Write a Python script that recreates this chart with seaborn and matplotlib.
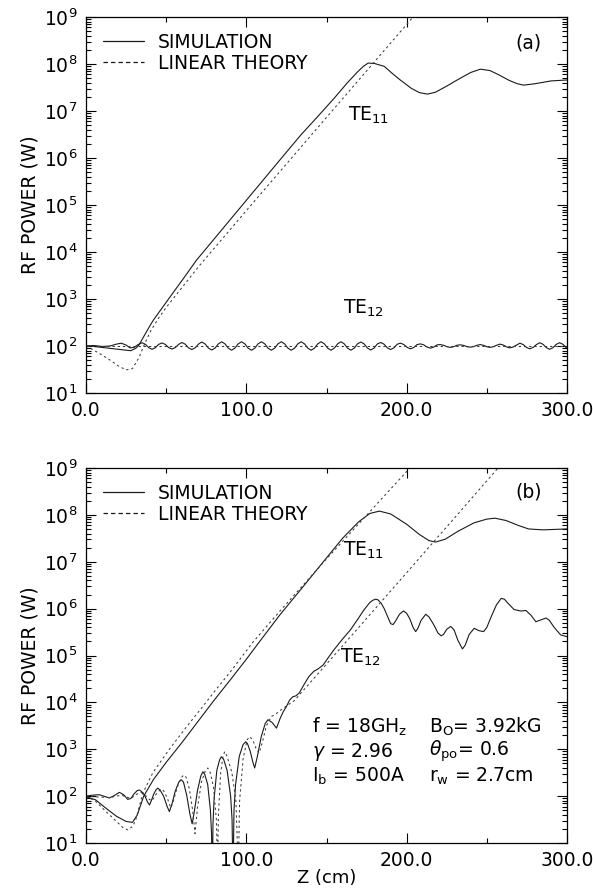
import numpy as np
import pandas as pd
import seaborn as sns
import matplotlib.pyplot as plt
from matplotlib.lines import Line2D
from matplotlib.ticker import MultipleLocator, FixedLocator, LogFormatterMathtext, NullFormatter, FormatStrFormatter

# ---- panel (a): values (z in cm, power as log10(W)) ----
z_a11_sim = [0, 5, 10, 15, 20, 25, 28, 31, 33, 36, 39, 42, 50, 60, 69, 80, 90, 100, 110, 120,
             134, 145, 155, 163, 169, 173, 176, 180, 186, 191, 196, 203, 208, 213, 218, 225,
             232, 240, 246, 252, 258, 264, 269, 273, 280, 290, 300]
p_a11_sim = [2.00, 1.99, 1.97, 1.95, 1.93, 1.91, 1.90, 1.95, 2.02, 2.20, 2.38, 2.55, 2.93, 3.40,
             3.83, 4.28, 4.69, 5.10, 5.51, 5.92, 6.49, 6.90, 7.28, 7.60, 7.82, 7.95, 8.02, 8.01,
             7.95, 7.80, 7.66, 7.48, 7.39, 7.36, 7.40, 7.53, 7.67, 7.82, 7.89, 7.86, 7.76, 7.65,
             7.58, 7.55, 7.58, 7.64, 7.66]

z_a11_lin = [0, 8, 15, 20, 25, 29, 33, 36, 40, 45, 50, 60, 70, 80, 100, 134, 204, 210]
p_a11_lin = [2.00, 1.85, 1.70, 1.58, 1.49, 1.52, 1.75, 2.00, 2.30, 2.58, 2.82, 3.25, 3.68, 4.08,
             4.88, 6.23, 9.00, 9.24]

z_a12_sim = [0, 5, 10, 15, 19, 22, 25, 27.5, 30, 32.5,
             35.0, 37.1, 39.1, 41.2, 43.3, 45.3,
             47.4, 49.5, 51.5, 53.6, 55.7, 57.7,
             59.8, 61.9, 63.9, 66.0, 68.1, 70.1,
             72.2, 74.3, 76.3, 78.4, 80.5, 82.5,
             84.6, 86.7, 88.7, 90.8, 92.9, 94.9,
             97.0, 99.1, 101.1, 103.2, 105.3, 107.3,
             109.4, 111.5, 113.5, 115.6, 117.7, 119.7,
             121.8, 123.9, 125.9, 128.0, 130.1, 132.1,
             134.2, 136.3, 138.3, 140.4, 142.5, 144.5,
             146.6, 148.7, 150.7, 152.8, 154.9, 156.9,
             159.0, 161.1, 163.1, 165.2, 167.3, 169.3,
             171.4, 173.5, 175.5, 177.6, 179.7, 181.7,
             183.8, 185.9, 187.9, 190.0, 192.1, 194.1,
             196.2, 198.3, 200.3, 202.4, 204.5, 206.5,
             208.6, 210.7, 212.7, 214.8, 216.9, 218.9,
             221.0, 223.1, 225.1, 227.2, 229.3, 231.3,
             233.4, 235.5, 237.5, 239.6, 241.7, 243.7,
             245.8, 247.9, 249.9, 252.0, 254.1, 256.1,
             258.2, 260.3, 262.3, 264.4, 266.5, 268.5,
             270.6, 272.7, 274.7, 276.8, 278.9, 280.9,
             283.0, 285.1, 287.1, 289.2, 291.3, 293.3,
             295.4, 297.5, 299.5, 300]
p_a12_sim = [2.00, 2.01, 1.99, 2.00, 2.04, 2.06, 2.02, 1.96, 1.97, 2.03,
             2.070, 2.035, 1.965, 1.930, 1.965, 2.035,
             2.065, 2.033, 1.967, 1.935, 1.967, 2.033,
             2.075, 2.038, 1.962, 1.925, 1.962, 2.038,
             2.085, 2.043, 1.957, 1.915, 1.957, 2.043,
             2.090, 2.045, 1.955, 1.910, 1.955, 2.045,
             2.090, 2.045, 1.955, 1.910, 1.955, 2.045,
             2.090, 2.045, 1.955, 1.910, 1.955, 2.045,
             2.090, 2.045, 1.955, 1.910, 1.955, 2.045,
             2.090, 2.045, 1.955, 1.910, 1.955, 2.045,
             2.090, 2.045, 1.955, 1.910, 1.955, 2.045,
             2.090, 2.045, 1.955, 1.910, 1.955, 2.045,
             2.085, 2.043, 1.957, 1.915, 1.957, 2.043,
             2.075, 2.038, 1.962, 1.925, 1.962, 2.038,
             2.060, 2.030, 1.970, 1.940, 1.970, 2.030,
             2.045, 2.023, 1.977, 1.955, 1.977, 2.023,
             2.030, 2.015, 1.985, 1.970, 1.985, 2.015,
             2.025, 2.013, 1.987, 1.975, 1.987, 2.013,
             2.030, 2.015, 1.985, 1.970, 1.985, 2.015,
             2.040, 2.020, 1.980, 1.960, 1.980, 2.020,
             2.060, 2.030, 1.970, 1.940, 1.970, 2.030,
             2.070, 2.035, 1.965, 1.930, 1.965, 2.035,
             2.070, 2.035, 1.965, 1.960]

z_a12_lin = [0, 300]
p_a12_lin = [2.00, 2.00]

# ---- panel (b) ----
z_b11_sim = [0, 6, 12.5, 19, 25, 29, 32, 36, 42, 50, 60, 70, 80, 90, 100, 109, 121, 134, 149,
             160, 170, 177, 183, 190, 200, 208, 214, 218, 224, 232, 242, 250, 255, 262, 270,
             276, 285, 300]
p_b11_sim = [1.99, 1.92, 1.74, 1.57, 1.46, 1.44, 1.60, 2.00, 2.35, 2.72, 3.15, 3.60, 4.05, 4.48,
             4.92, 5.33, 5.87, 6.41, 7.04, 7.50, 7.85, 8.03, 8.08, 8.02, 7.80, 7.58, 7.45, 7.42,
             7.48, 7.65, 7.83, 7.91, 7.93, 7.88, 7.77, 7.70, 7.68, 7.70]

z_b11_lin = [0, 6, 12.5, 19, 23, 26, 29, 31, 33, 35.4, 41.7, 52, 62.5, 73, 81, 90, 104, 121,
             150, 202, 206]
p_b11_lin = [2.00, 1.89, 1.67, 1.46, 1.33, 1.28, 1.35, 1.49, 1.75, 2.06, 2.50, 3.00, 3.47, 3.92,
             4.27, 4.65, 5.28, 5.95, 7.06, 9.00, 9.15]

z_b12_sim = [0, 4, 8.3, 11, 14.6, 18, 20.8, 23.5, 26, 28, 30, 32, 33.3,
             34.6, 36.5, 38.3, 39.6, 40.6, 42.2, 43.8, 44.8,
             46.2, 48.4, 50.6, 52.0, 53.5, 55.7, 57.9, 59.4,
             60.8, 62.8, 64.8, 66.2, 67.5, 69.6, 71.6, 72.9,
             74.1, 75.9, 77.6, 78.3, 78.8, 79.2, 79.9, 81.6, 83.3, 84.4,
             85.9, 88.0, 90.2, 91.1, 91.7, 92.3, 93.3, 95.6, 98.0, 99.6,
             100.7, 102.4, 104.1, 105.2, 106.9, 109.3, 111.8, 113.5,
             116.1, 118.8, 121, 123, 125, 127, 129, 131, 133, 136, 139, 142, 145, 148,
             151, 154.6, 160, 165, 170, 173.3, 177, 179, 180.6, 182, 184, 186, 188.5, 190,
             191.5, 193, 195.5, 198, 200, 202, 204, 205.6, 207, 209, 211.9, 214, 217, 219.5,
             221.5, 223, 225, 227.5, 229.5, 232, 234.8, 236.5, 239, 242.1, 245, 248, 250,
             253, 256, 259, 261, 263, 267, 271, 274.4, 277.5, 280.6, 283.8, 286.9, 289,
             292, 296, 300]
p_b12_sim = [2.00, 2.02, 2.03, 2.00, 1.96, 2.02, 2.08, 2.03, 1.93, 1.95, 2.05, 2.12, 2.13,
             2.10, 2.02, 1.88, 1.81, 1.89, 2.04, 2.14, 2.17,
             2.13, 2.00, 1.78, 1.67, 1.82, 2.11, 2.30, 2.35,
             2.30, 2.02, 1.62, 1.41, 1.66, 2.13, 2.43, 2.52,
             2.46, 2.25, 1.70, 1.20, 0.30, 1.40, 1.95, 2.55, 2.77, 2.84,
             2.78, 2.55, 2.00, 1.50, 0.20, 1.70, 2.25, 2.85, 3.10, 3.16,
             3.12, 2.96, 2.72, 2.60, 2.85, 3.27, 3.55, 3.63,
             3.57, 3.45, 3.65, 3.80, 3.91, 4.05, 4.12, 4.14, 4.20, 4.38, 4.55, 4.66, 4.72, 4.80,
             4.95, 5.12, 5.35, 5.55, 5.80, 5.97, 6.13, 6.18, 6.20, 6.19, 6.12, 6.00, 5.80, 5.68,
             5.66, 5.73, 5.88, 5.95, 5.90, 5.78, 5.60, 5.51, 5.58, 5.75, 5.88, 5.82, 5.65, 5.48,
             5.42, 5.45, 5.56, 5.62, 5.55, 5.32, 5.14, 5.22, 5.45, 5.58, 5.53, 5.51, 5.60,
             5.85, 6.08, 6.22, 6.20, 6.12, 5.98, 5.95, 5.96, 5.86, 5.72, 5.76, 5.80, 5.75,
             5.60, 5.44, 5.40]

z_b12_lin = [0, 8, 15, 22, 28, 31, 34, 35.5, 37.5, 39.5, 41, 42.5, 44.5, 47, 48.5, 50.5, 52,
             53, 54.5, 57, 59.5, 61, 62.5, 64.5, 66.5, 68, 69.5, 72, 74.5, 76, 77.5, 79.5,
             81.3, 82, 82.6, 84, 85.5, 86.5, 88, 91, 93.5, 95, 95.8, 98, 100.5, 102, 104,
             106, 108, 110, 112.5, 115.6, 118, 122, 130, 165, 207, 257, 262]
p_b12_lin = [2.00, 1.98, 1.97, 2.02, 1.95, 2.03, 2.08, 2.06, 2.00, 1.93, 1.90, 1.97, 2.08,
             2.15, 2.11, 1.98, 1.83, 1.75, 1.90, 2.20, 2.40, 2.45, 2.40, 2.15, 1.70, 1.20,
             1.75, 2.30, 2.55, 2.60, 2.50, 2.20, 1.50, 0.50, 1.60, 2.50, 2.85, 2.95, 2.85,
             2.50, 1.90, 0.40, 1.90, 2.80, 3.20, 3.27, 3.20, 3.02, 2.92, 3.15, 3.50, 3.70,
             3.74, 3.85, 4.04, 5.40, 7.04, 9.00, 9.20]

# y tick positions (decades shown on the axis)
y_major = [1e1, 1e2, 1e3, 1e4, 1e5, 1e6, 1e7, 1e8, 1e9]
y_minor = [m * d for d in y_major[:-1] for m in range(2, 10)]

sns.set_style("ticks")
plt.rcParams["font.family"] = ["DejaVu Sans"]
plt.rcParams["mathtext.fontset"] = "dejavusans"
for key in ("text.color", "axes.labelcolor", "xtick.color", "ytick.color", "axes.edgecolor"):
    plt.rcParams[key] = "black"

fig = plt.figure(figsize=(5.93, 8.96), dpi=100)
W, H = 593, 896
ax_a = fig.add_axes([86 / W, 1 - 393 / H, 481 / W, 376 / H])
ax_b = fig.add_axes([86 / W, 1 - 843 / H, 481 / W, 375 / H])

sim_kw = dict(color="#1a1a1a", lw=0.8)
lin_kw = dict(color="#3a3a3a", lw=0.75, linestyle=(0, (2.2, 2.8)))


def draw(ax, z, p, kw):
    df = pd.DataFrame({"z": z, "p": 10 ** np.array(p)})
    sns.lineplot(data=df, x="z", y="p", ax=ax, sort=False, estimator=None, **kw)


for ax in (ax_a, ax_b):
    ax.set_yscale("log")

draw(ax_a, z_a11_sim, p_a11_sim, sim_kw)
draw(ax_a, z_a11_lin, p_a11_lin, lin_kw)
draw(ax_a, z_a12_sim, p_a12_sim, sim_kw)
draw(ax_a, z_a12_lin, p_a12_lin, lin_kw)

draw(ax_b, z_b11_sim, p_b11_sim, sim_kw)
draw(ax_b, z_b11_lin, p_b11_lin, lin_kw)
draw(ax_b, z_b12_sim, p_b12_sim, sim_kw)
draw(ax_b, z_b12_lin, p_b12_lin, lin_kw)

fs = 13.5
for ax, tag, ty in ((ax_a, "(a)", 0.931), (ax_b, "(b)", 0.936)):
    ax.set_xlim(0, 300)
    ax.set_ylim(1e1, 1e9)
    ax.xaxis.set_major_locator(MultipleLocator(100))
    ax.xaxis.set_minor_locator(MultipleLocator(50))
    ax.xaxis.set_major_formatter(FormatStrFormatter("%.1f"))
    ax.yaxis.set_major_locator(FixedLocator(y_major))
    ax.yaxis.set_minor_locator(FixedLocator(y_minor))
    ax.yaxis.set_major_formatter(LogFormatterMathtext())
    ax.yaxis.set_minor_formatter(NullFormatter())
    ax.tick_params(which="both", direction="in", top=True, right=True, labelsize=fs, width=0.8)
    ax.tick_params(which="major", length=7, pad=6)
    ax.tick_params(which="minor", length=3.5)
    for s in ax.spines.values():
        s.set_linewidth(0.9)
    ax.set_ylabel("RF POWER (W)", fontsize=fs, labelpad=3)
    ax.set_xlabel("")
    ax.text(0.92, ty, tag, transform=ax.transAxes, fontsize=fs, ha="center", va="center")
    handles = [Line2D([], [], color="#1a1a1a", lw=0.9),
               Line2D([], [], color="#1a1a1a", lw=0.9, linestyle=(0, (3.5, 2.5)))]
    ax.legend(handles, ["SIMULATION", "LINEAR THEORY"], loc="upper left", frameon=False,
              fontsize=fs, handlelength=2.2, handletextpad=0.75, labelspacing=0.12,
              borderaxespad=0, borderpad=0, bbox_to_anchor=(0.035, 0.958))

ax_b.set_xlabel("Z (cm)", fontsize=13, labelpad=-1)

ax_a.text(176, 10 ** 6.91, r"TE$_{11}$", fontsize=fs, ha="center", va="center")
ax_a.text(173, 10 ** 2.81, r"TE$_{12}$", fontsize=fs, ha="center", va="center")
ax_b.text(173, 10 ** 7.25, r"TE$_{11}$", fontsize=fs, ha="center", va="center")
ax_b.text(171, 10 ** 4.95, r"TE$_{12}$", fontsize=fs, ha="center", va="center")

params_left = [r"f = 18GH$_\mathrm{z}$", r"$\gamma$ = 2.96", r"I$_\mathrm{b}$ = 500A"]
params_right = [r"B$_\mathrm{O}$= 3.92kG", r"$\theta_\mathrm{po}$= 0.6", r"r$_\mathrm{w}$ = 2.7cm"]
for i, (l, r) in enumerate(zip(params_left, params_right)):
    yy = 10 ** (3.48 - 0.533 * i)
    ax_b.text(141, yy, l, fontsize=fs, ha="left", va="center")
    ax_b.text(214, yy, r, fontsize=fs, ha="left", va="center")

fig.savefig("out.png", dpi=100)
